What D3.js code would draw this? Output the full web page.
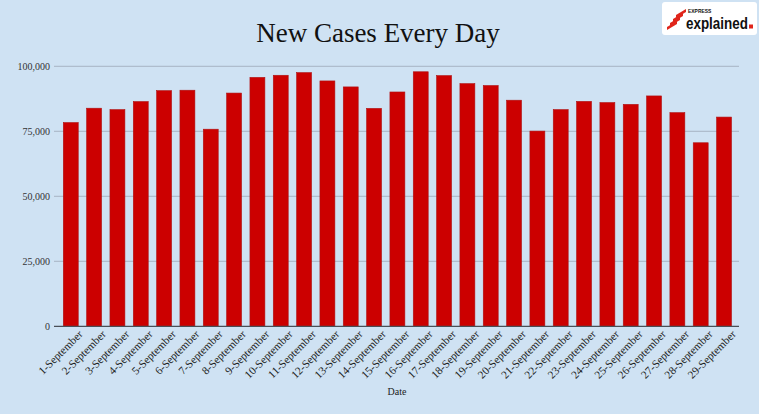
<!DOCTYPE html>
<html><head><meta charset="utf-8">
<script src="https://cdn.jsdelivr.net/npm/d3@7"></script>
<style>
html,body{margin:0;padding:0;background:#cfe2f3;}
svg{display:block;}
</style></head>
<body>
<script>
const categories = ["1-September","2-September","3-September","4-September","5-September","6-September","7-September","8-September","9-September","10-September","11-September","12-September","13-September","14-September","15-September","16-September","17-September","18-September","19-September","20-September","21-September","22-September","23-September","24-September","25-September","26-September","27-September","28-September","29-September"];
const newCases = [78357,83883,83341,86432,90632,90802,75809,89706,95735,96551,97570,94372,92071,83809,90123,97894,96424,93337,92605,86961,75083,83347,86508,86052,85362,88600,82170,70589,80472];
const yTicks = [0,25000,50000,75000,100000];
const title = "New Cases Every Day";
const xTitle = "Date";

const W = 759, H = 414;
const svg = d3.select("body").append("svg").attr("width", W).attr("height", H);
svg.append("rect").attr("width", W).attr("height", H).attr("fill", "#cfe2f3");

const serif = "'Liberation Serif','DejaVu Serif',serif";

const y = d3.scaleLinear().domain([0,100000]).range([326.3, 66.3]);
const x = d3.scaleBand().domain(categories).range([59.1, 735.7]).paddingInner(0.36).paddingOuter(0.18);

// gridlines
const grid = svg.append("g");
grid.selectAll("line").data(yTicks.filter(d => d > 0)).join("line")
  .attr("x1", 54).attr("x2", 739)
  .attr("y1", d => y(d)).attr("y2", d => y(d))
  .attr("stroke", "#a7b5c4").attr("stroke-width", 1);

// y axis labels
const yAxis = d3.axisLeft(y).tickValues(yTicks).tickSize(0).tickPadding(4).tickFormat(d3.format(","));
const gy = svg.append("g").attr("transform", "translate(54,0)").call(yAxis);
gy.select(".domain").remove();
gy.selectAll("text").attr("font-family", serif).attr("font-size", 10).attr("fill", "#333");

// bars
svg.append("g").selectAll("rect").data(newCases).join("rect")
  .attr("x", (d,i) => x(categories[i]))
  .attr("width", x.bandwidth())
  .attr("y", d => y(d))
  .attr("height", d => y(0) - y(d))
  .attr("fill", "#cc0000")
  .attr("stroke", "#b01010").attr("stroke-width", 0.6);

// x axis
const xAxis = d3.axisBottom(x).tickSize(0).tickPadding(6);
const gx = svg.append("g").attr("transform", `translate(0,${y(0)})`).call(xAxis);
gx.select(".domain").attr("d", `M54,0H739`).attr("stroke", "#4a4f57").attr("stroke-width", 1.2);
gx.selectAll("text")
  .attr("font-family", serif).attr("font-size", 11.2).attr("fill", "#222")
  .attr("text-anchor", "end").attr("dy", "0.3em")
  .attr("transform", "translate(6,2) rotate(-45)");

// title
svg.append("text").attr("x", 378).attr("y", 42).attr("text-anchor", "middle")
  .attr("font-family", serif).attr("font-size", 27).attr("fill", "#111").text(title);

// x axis title
svg.append("text").attr("x", 397).attr("y", 395).attr("text-anchor", "middle")
  .attr("font-family", serif).attr("font-size", 10).attr("fill", "#222").text(xTitle);

// logo
const logo = svg.append("g");
logo.append("rect").attr("x", 662).attr("y", 2).attr("width", 95).attr("height", 33).attr("rx", 3).attr("fill", "#ffffff");
for (let k = 0; k < 4; k++) {
  logo.append("path")
    .attr("d", `M${667+k*3},${27-k*4} l10,-6 l0,3 l-10,6 z`)
    .attr("fill", "#e0251b");
}
logo.append("text").attr("transform", "translate(688,13) scale(0.9,1)").attr("font-family", "'Liberation Sans',sans-serif")
  .attr("font-size", 5.5).attr("font-weight", "bold").attr("fill", "#111").text("EXPRESS");
logo.append("text").attr("transform", "translate(686,28.5) scale(0.79,1)").attr("font-family", "'Liberation Sans',sans-serif")
  .attr("font-size", 17).attr("font-weight", "bold").attr("fill", "#111").text("explained");
logo.append("rect").attr("x", 749).attr("y", 24.5).attr("width", 4).attr("height", 4).attr("fill", "#e0251b");
</script>
</body></html>
